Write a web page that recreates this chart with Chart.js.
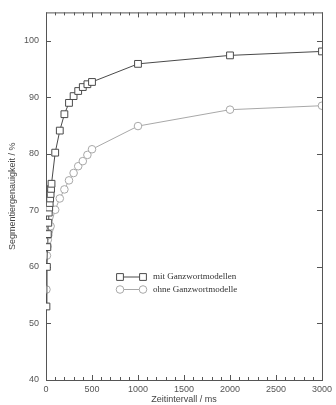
<!DOCTYPE html>
<html lang="de">
<head>
    <meta charset="UTF-8">
    <title>Segmentiergenauigkeit</title>
    <script src="https://cdn.jsdelivr.net/npm/chart.js"></script>
    <style>
        html, body { margin: 0; padding: 0; background: #fff; }
        #wrap { width: 336px; height: 405px; }
    </style>
</head>
<body>
    <div id="wrap"><canvas id="chart" width="336" height="405"></canvas></div>

    <script>
        // Zeitintervall (ms) und Segmentiergenauigkeit (%)
        const mitX = [5, 10, 15, 20, 25, 30, 35, 40, 45, 50, 55, 60, 100, 150, 200, 250, 300, 350, 400, 450, 500, 1000, 2000, 3000];
        const mitY = [53, 60, 63.5, 65.8, 67.8, 69.6, 70.5, 71.3, 72.1, 72.9, 73.8, 74.7, 80.2, 84.1, 87, 89, 90.2, 91.1, 91.8, 92.3, 92.7, 95.9, 97.4, 98.1];
        const ohneX = [5, 10, 15, 20, 25, 30, 40, 50, 100, 150, 200, 250, 300, 350, 400, 450, 500, 1000, 2000, 3000];
        const ohneY = [56, 62, 63.6, 64.8, 65.6, 66.2, 66.8, 67.2, 70.1, 72.1, 73.7, 75.3, 76.6, 77.8, 78.7, 79.8, 80.8, 84.9, 87.8, 88.5];
        const seriesNames = ['mit Ganzwortmodellen', 'ohne Ganzwortmodelle'];
        const xTicks = [0, 500, 1000, 1500, 2000, 2500, 3000];
        const yTicks = [40, 50, 60, 70, 80, 90, 100];

        const toPoints = (xs, ys) => xs.map((x, i) => ({ x: x, y: ys[i] }));

        // Rahmen mit nach innen gerichteten Teilstrichen
        const framePlugin = {
            id: 'frame',
            beforeDatasetsDraw(chart) {
                const { ctx, chartArea: a, scales } = chart;
                ctx.save();
                ctx.strokeStyle = '#555';
                ctx.lineWidth = 1;
                ctx.strokeRect(a.left + 0.5, a.top + 0.5, a.right - a.left, a.bottom - a.top);
                ctx.beginPath();
                for (let v = 0; v <= 3000; v += 100) {
                    const px = Math.round(scales.x.getPixelForValue(v)) + 0.5;
                    const len = v % 500 === 0 ? 5 : 3;
                    ctx.moveTo(px, a.bottom); ctx.lineTo(px, a.bottom - len);
                    ctx.moveTo(px, a.top); ctx.lineTo(px, a.top + len);
                }
                yTicks.forEach(v => {
                    const py = Math.round(scales.y.getPixelForValue(v)) + 0.5;
                    ctx.moveTo(a.left, py); ctx.lineTo(a.left + 5, py);
                    ctx.moveTo(a.right, py); ctx.lineTo(a.right - 5, py);
                });
                ctx.stroke();
                ctx.restore();
            }
        };

        // Legende innerhalb der Grafik
        const legendPlugin = {
            id: 'innerLegend',
            afterDraw(chart) {
                const ctx = chart.ctx;
                ctx.save();
                ctx.font = '9px "Liberation Serif"';
                ctx.textBaseline = 'middle';
                chart.data.datasets.forEach((ds, i) => {
                    const y = 277 + i * 12.5;
                    ctx.strokeStyle = ds.borderColor;
                    ctx.lineWidth = 1;
                    ctx.beginPath();
                    ctx.moveTo(120, y); ctx.lineTo(143, y);
                    ctx.stroke();
                    const opts = { pointStyle: ds.pointStyle, radius: ds.pointRadius, borderWidth: 1 };
                    ctx.fillStyle = '#fff';
                    Chart.helpers.drawPoint(ctx, opts, 120, y);
                    Chart.helpers.drawPoint(ctx, opts, 143, y);
                    ctx.fillStyle = '#333';
                    ctx.fillText(ds.label, 153, y);
                });
                ctx.restore();
            }
        };

        new Chart(document.getElementById('chart'), {
            type: 'scatter',
            data: {
                datasets: [
                    {
                        label: seriesNames[0],
                        data: toPoints(mitX, mitY),
                        showLine: true,
                        borderColor: '#4a4a4a',
                        backgroundColor: '#fff',
                        borderWidth: 1,
                        pointStyle: 'rect',
                        pointRadius: 4.8,
                        pointBorderWidth: 1,
                        order: 1
                    },
                    {
                        label: seriesNames[1],
                        data: toPoints(ohneX, ohneY),
                        showLine: true,
                        borderColor: '#a8a8a8',
                        backgroundColor: '#fff',
                        borderWidth: 1,
                        pointStyle: 'circle',
                        pointRadius: 3.8,
                        pointBorderWidth: 1,
                        order: 2
                    }
                ]
            },
            options: {
                responsive: false,
                animation: false,
                layout: { padding: { top: 10, right: 9, left: 0, bottom: 0 } },
                plugins: {
                    legend: { display: false },
                    tooltip: { enabled: false }
                },
                scales: {
                    x: {
                        type: 'linear',
                        min: 0,
                        max: 3000,
                        afterBuildTicks: s => { s.ticks = xTicks.map(v => ({ value: v })); },
                        afterFit: s => { s.height = 25; },
                        grid: { display: false, drawTicks: false },
                        border: { display: false },
                        ticks: {
                            padding: 4,
                            color: '#555',
                            font: { family: 'Liberation Sans', size: 9 },
                            maxRotation: 0,
                            callback: v => String(v)
                        },
                        title: {
                            display: true,
                            text: 'Zeitintervall / ms',
                            color: '#444',
                            font: { family: 'Liberation Sans', size: 9 },
                            padding: { top: 2, bottom: 0 }
                        }
                    },
                    y: {
                        type: 'linear',
                        min: 40,
                        max: 105,
                        afterBuildTicks: s => { s.ticks = yTicks.map(v => ({ value: v })); },
                        afterFit: s => { s.width = 46; },
                        grid: { display: false, drawTicks: false },
                        border: { display: false },
                        ticks: {
                            padding: 7,
                            color: '#555',
                            font: { family: 'Liberation Sans', size: 9 },
                            callback: v => String(v)
                        },
                        title: {
                            display: true,
                            text: 'Segmentiergenauigkeit / %',
                            color: '#444',
                            font: { family: 'Liberation Sans', size: 9 },
                            padding: { top: 7.5, bottom: 0 }
                        }
                    }
                }
            },
            plugins: [framePlugin, legendPlugin]
        });
    </script>
</body>
</html>
